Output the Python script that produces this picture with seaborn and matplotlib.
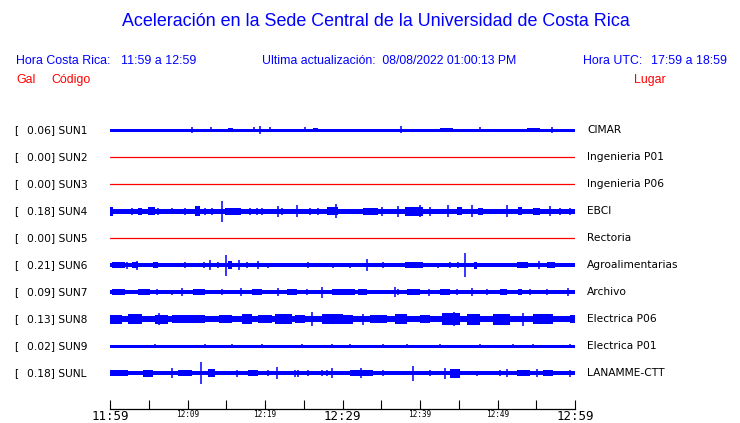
import matplotlib
matplotlib.use("Agg")
import matplotlib.pyplot as plt
import pandas as pd
import seaborn as sns

# --- datos ---
codes = ["SUN1", "SUN2", "SUN3", "SUN4", "SUN5", "SUN6", "SUN7", "SUN8", "SUN9", "SUNL"]
places = ["CIMAR", "Ingenieria P01", "Ingenieria P06", "EBCI", "Rectoria",
          "Agroalimentarias", "Archivo", "Electrica P06", "Electrica P01", "LANAMME-CTT"]
gal = [0.06, 0.00, 0.00, 0.18, 0.00, 0.21, 0.09, 0.13, 0.02, 0.18]

tick_minutes = [0, 5, 10, 15, 20, 25, 30, 35, 40, 45, 50, 55, 60]
tick_labels = ["11:59", "", "12:09", "", "12:19", "", "12:29", "", "12:39", "", "12:49", "", "12:59"]
big_labels = ["11:59", "12:29", "12:59"]

# amplitud base de cada traza (0 = canal sin senal)
base_amp = [1.5, 0, 0, 2.5, 0, 2.2, 2.0, 3.0, 1.5, 2.2]

# rafagas: (minuto inicio, minuto fin, amplitud)
bursts = {
    "SUN1": [(15.2, 15.9, 2.3), (26.2, 26.8, 2.3), (42.6, 44.3, 2.0), (53.8, 55.5, 2.3)],
    "SUN4": [(0.0, 0.4, 4.5), (3.6, 4.1, 3.5), (4.9, 5.8, 4.0), (11.0, 11.6, 5.0),
             (14.9, 16.9, 3.5), (28.0, 29.4, 4.0), (32.6, 34.6, 3.5), (38.1, 40.4, 4.5),
             (44.8, 45.4, 4.0), (47.5, 48.1, 3.5), (52.6, 53.2, 4.0), (54.6, 55.5, 3.5)],
    "SUN6": [(0.2, 1.9, 2.8), (2.9, 3.6, 3.0), (5.5, 6.2, 3.0), (15.2, 15.7, 4.0),
             (38.1, 40.4, 3.0), (47.0, 47.4, 3.5), (52.5, 53.9, 3.0), (56.4, 57.4, 3.0)],
    "SUN7": [(0.2, 1.9, 3.0), (3.6, 5.2, 3.0), (10.7, 12.3, 3.0), (18.3, 19.6, 3.0),
             (22.8, 24.1, 3.0), (28.6, 31.6, 3.0), (32.0, 33.2, 3.0), (38.3, 40.0, 3.0),
             (42.6, 43.9, 3.0), (50.3, 51.2, 3.0), (52.6, 53.2, 3.0)],
    "SUN8": [(0.0, 1.5, 4.5), (2.3, 4.1, 5.0), (5.8, 7.5, 4.5), (8.0, 12.3, 4.0),
             (14.0, 15.7, 4.0), (17.0, 18.3, 5.0), (19.1, 20.9, 4.0), (21.3, 23.5, 5.0),
             (23.9, 25.2, 4.0), (27.4, 30.1, 5.0), (30.1, 31.4, 4.5), (33.5, 35.7, 4.0),
             (36.8, 38.3, 5.0), (40.0, 41.3, 4.0), (42.8, 45.2, 6.0), (46.1, 47.8, 5.5),
             (49.4, 51.6, 5.5), (54.6, 57.1, 5.0), (59.4, 60.0, 4.0)],
    "SUNL": [(0.0, 2.3, 2.7), (4.3, 5.5, 3.5), (8.8, 10.6, 3.0), (12.6, 13.5, 4.0),
             (17.8, 19.1, 3.0), (31.0, 33.9, 3.0), (43.9, 45.2, 4.5), (52.5, 54.2, 3.0),
             (55.9, 57.1, 3.0)],
}

# picos sueltos: (minuto, amplitud)
spikes = {
    "SUN1": [(10.6, 3.0), (13.0, 2.5), (18.6, 2.5), (19.4, 4.0), (20.6, 2.5), (25.2, 2.5),
             (37.5, 3.5), (47.8, 2.5), (57.0, 3.0)],
    "SUN4": [(2.9, 3.5), (6.2, 3.5), (8.0, 3.0), (9.7, 3.5), (12.3, 3.5), (13.2, 3.5),
             (14.5, 10.5), (18.1, 3.5), (19.0, 3.5), (19.6, 3.5), (21.7, 5.5), (22.2, 3.5),
             (24.1, 6.0), (25.8, 3.5), (26.8, 3.5), (29.2, 7.0), (35.1, 4.5), (37.2, 5.5),
             (40.0, 6.0), (41.3, 4.5), (43.6, 6.0), (46.7, 6.0), (51.2, 6.0), (56.8, 5.0),
             (58.1, 3.5), (59.4, 3.5)],
    "SUN6": [(2.2, 3.5), (3.5, 4.5), (9.7, 3.0), (12.1, 3.0), (12.9, 5.0), (13.9, 3.0),
             (15.0, 10.5), (16.6, 5.0), (17.7, 3.0), (19.1, 4.0), (20.4, 2.5), (25.5, 3.0),
             (28.8, 2.5), (31.0, 2.5), (33.2, 6.0), (35.2, 3.0), (42.3, 2.5), (43.9, 3.0),
             (44.9, 3.0), (45.8, 12.0), (55.4, 4.0)],
    "SUN7": [(6.1, 3.0), (8.0, 2.5), (9.3, 4.0), (14.5, 3.0), (16.9, 4.0), (21.7, 4.0),
             (25.4, 3.0), (27.4, 5.5), (36.8, 5.0), (37.2, 3.0), (41.2, 3.5), (44.8, 3.0),
             (46.7, 4.0), (48.6, 3.0), (54.2, 3.0), (56.4, 3.0), (59.1, 4.0)],
    "SUN8": [(6.3, 6.0), (26.1, 7.0), (32.6, 5.5), (44.4, 7.0), (53.3, 6.5)],
    "SUN9": [(5.8, 1.9), (12.3, 1.9), (15.7, 1.9), (19.6, 1.9), (24.8, 1.9), (28.6, 1.9),
             (31.0, 1.9), (35.2, 1.9), (38.3, 1.9), (42.6, 1.9), (47.7, 1.9), (52.0, 1.9),
             (54.6, 1.9), (59.4, 1.9)],
    "SUNL": [(8.0, 5.0), (11.7, 11.0), (16.4, 3.5), (20.4, 3.0), (21.5, 6.0), (23.9, 3.5),
             (24.3, 3.5), (25.5, 3.0), (27.4, 3.0), (28.0, 3.0), (28.6, 5.0), (32.4, 5.0),
             (35.2, 3.0), (39.1, 7.5), (41.3, 3.0), (43.2, 5.5), (47.4, 2.5), (50.3, 3.0),
             (51.2, 4.0), (55.1, 4.0), (59.4, 3.5)],
}

BLUE = "#0000ff"
RED = "#ff0000"
W, H = 740, 423

sns.set_theme(style="white")
plt.rcParams["font.family"] = ["DejaVu Sans"]

fig = plt.figure(figsize=(W / 100, H / 100), dpi=100)
fig.patch.set_facecolor("white")
# eje en coordenadas de pixel: x de 110 a 575, y de 118 a 409
ax = fig.add_axes([110 / W, (H - 409) / H, 465 / W, (409 - 118) / H])
ax.set_xlim(0, 60)
ax.set_ylim(409, 118)

row_y = [130 + 27 * i for i in range(len(codes))]

dead = pd.DataFrame({
    "minuto": [0, 60] * len(codes),
    "codigo": [c for c in codes for _ in range(2)],
    "y": [row_y[i] for i in range(len(codes)) for _ in range(2)],
})
dead = dead[dead["codigo"].isin([c for c, a in zip(codes, base_amp) if a == 0])]
sns.lineplot(data=dead, x="minuto", y="y", units="codigo", estimator=None,
             color=RED, linewidth=0.9, ax=ax, legend=False)

for i, code in enumerate(codes):
    y = row_y[i]
    a = base_amp[i]
    if a == 0:
        continue
    ax.fill_between([0, 60], y - a, y + a, color=BLUE, linewidth=0)
    for t0, t1, amp in bursts.get(code, []):
        ax.fill_between([t0, t1], y - amp, y + amp, color=BLUE, linewidth=0)
    sp = spikes.get(code, [])
    if sp:
        ts = [s[0] for s in sp]
        amps = [s[1] for s in sp]
        ax.vlines(ts, [y - v for v in amps], [y + v for v in amps], color=BLUE, linewidth=1.1)

# etiquetas de cada fila
for i, code in enumerate(codes):
    yf = 1 - row_y[i] / H
    fig.text(14 / W, yf, "[", fontsize=7.7, color="black", va="center", ha="left")
    fig.text(27 / W, yf, f"{gal[i]:.2f}] {code}", fontsize=7.7, color="black", va="center", ha="left")
    fig.text(587 / W, yf, places[i], fontsize=7.7, color="black", va="center", ha="left")

# eje de tiempo
for side in ["top", "left", "right"]:
    ax.spines[side].set_visible(False)
ax.spines["bottom"].set_color("black")
ax.spines["bottom"].set_linewidth(0.9)
ax.set_yticks([])
ax.set_xticks(tick_minutes)
ax.set_xticklabels(tick_labels)
ax.tick_params(axis="x", direction="in", length=6.5, width=0.8, color="black", pad=0.5,
               bottom=True)
for lbl in ax.get_xticklabels():
    lbl.set_family("DejaVu Sans Mono")
    lbl.set_color("black")
    lbl.set_fontsize(9 if lbl.get_text() in big_labels else 5.6)
ax.set_xlabel("")
ax.set_ylabel("")
ax.grid(False)
ax.set_facecolor("white")

# encabezado
hdr = ["Liberation Sans", "DejaVu Sans"]
fig.text(376 / W, 1 - 21 / H, "Aceleración en la Sede Central de la Universidad de Costa Rica",
         family=hdr, fontsize=12.9, color=BLUE, ha="center", va="center")
fig.text(16 / W, 1 - 61 / H, "Hora Costa Rica:", family=hdr, fontsize=8.9, color=BLUE, va="center")
fig.text(121 / W, 1 - 61 / H, "11:59 a 12:59", family=hdr, fontsize=8.9, color=BLUE, va="center")
fig.text(262 / W, 1 - 61 / H, "Ultima actualización:  08/08/2022 01:00:13 PM", family=hdr,
         fontsize=8.8, color=BLUE, va="center")
fig.text(583 / W, 1 - 61 / H, "Hora UTC:", family=hdr, fontsize=8.9, color=BLUE, va="center")
fig.text(727 / W, 1 - 61 / H, "17:59 a 18:59", family=hdr, fontsize=8.9, color=BLUE,
         va="center", ha="right")
fig.text(16 / W, 1 - 80 / H, "Gal", family=hdr, fontsize=8.9, color=RED, va="center")
fig.text(51 / W, 1 - 80 / H, "Código", family=hdr, fontsize=8.9, color=RED, va="center")
fig.text(634 / W, 1 - 80 / H, "Lugar", family=hdr, fontsize=8.9, color=RED, va="center")

fig.savefig("out.png", dpi=100, facecolor="white")
